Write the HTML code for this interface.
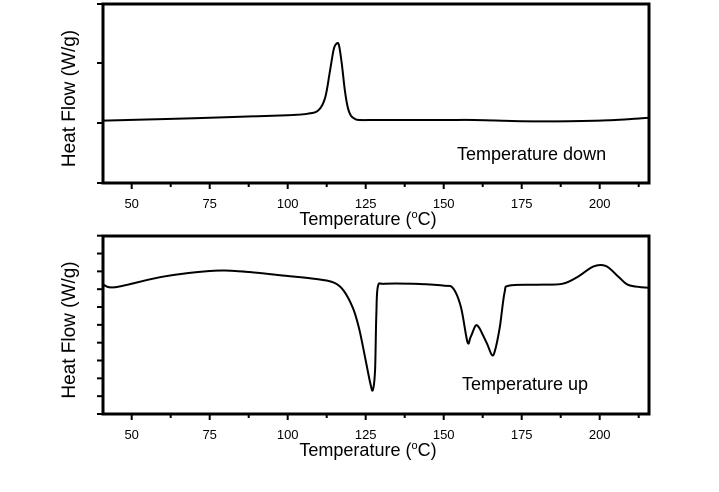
<!DOCTYPE html>
<html><head><meta charset="utf-8"><style>
body{margin:0;background:#fff}
text{font-family:"Liberation Sans",Arial,sans-serif;fill:#000}
</style></head><body>
<svg id="c" width="719" height="487"></svg>
<script>
const xTicks=[50,75,100,125,150,175,200];
const downT=[41,70,100,107,110,112,113.5,114.7,115.6,116.4,117.3,118.3,119.3,120.3,121.5,123,130,150,160,175,190,205,216];
const downV=[1.04,1.08,1.13,1.16,1.22,1.42,1.85,2.22,2.32,2.3,2.0,1.55,1.25,1.12,1.07,1.05,1.05,1.05,1.05,1.03,1.03,1.05,1.09];
const upT=[41,45,60,75,85,100,110,115,118,121,123,125,126.5,127.3,128,128.4,128.9,131,140,150,153,155.5,157.6,158.6,160.2,161.3,162.5,164,165.5,166.5,168,169.5,171,180,188,193,198,202,206,209,213,216];
const upV=[7.24,7.12,7.7,8.02,8.0,7.74,7.55,7.35,6.9,5.9,4.7,3.0,1.7,1.35,2.5,5.5,7.15,7.3,7.3,7.2,7.05,6.0,4.05,4.3,4.95,4.85,4.45,3.9,3.3,3.6,4.9,6.8,7.2,7.25,7.3,7.7,8.28,8.3,7.7,7.25,7.12,7.08];
const NS="http://www.w3.org/2000/svg";
const svg=document.getElementById('c');
function el(t,a,p){const e=document.createElementNS(NS,t);for(const k in a)e.setAttribute(k,a[k]);(p||svg).appendChild(e);return e;}
const X0=103,X1=649;
function xs(t){return 131.7+(t-50)*3.12;}
function path(T,V,ys){
 const P=T.map((t,i)=>[xs(t),ys(V[i])]);
 let d='M'+P[0][0].toFixed(1)+','+P[0][1].toFixed(1);
 for(let i=0;i<P.length-1;i++){
  const p0=P[Math.max(0,i-1)],p1=P[i],p2=P[i+1],p3=P[Math.min(P.length-1,i+2)];
  const c1=[p1[0]+(p2[0]-p0[0])/6,p1[1]+(p2[1]-p0[1])/6],c2=[p2[0]-(p3[0]-p1[0])/6,p2[1]-(p3[1]-p1[1])/6];
  d+='C'+c1.map(v=>v.toFixed(1))+' '+c2.map(v=>v.toFixed(1))+' '+p2.map(v=>v.toFixed(1));
 }
 return d;
}
function panel(name,top,bot,yticks,ys,T,V,note,nx,ny){
 const g=el('g',{});
 
 
 const fr=el('rect',{x:X0,y:top,width:X1-X0,height:bot-top,fill:'none',stroke:'#000','stroke-width':3},g);
 
 
 yticks.forEach(y=>{const l=el('line',{x1:X0-6,x2:X0,y1:y,y2:y,stroke:'#000','stroke-width':2},g);
  });
 for(let t=50;t<=212.5;t+=12.5){const major=(t%25===0);
  const l=el('line',{x1:xs(t),x2:xs(t),y1:bot,y2:bot+(major?6:4),stroke:'#000','stroke-width':2},g);
  }
 xTicks.forEach(t=>{const tx=el('text',{x:xs(t),y:bot+25,'font-size':13,'text-anchor':'middle'},g);tx.textContent=t;
  });
 const xt=el('text',{x:368,y:bot+42,'font-size':18,'text-anchor':'middle'},g);
 xt.innerHTML='Temperature (<tspan dy="-7" font-size="11">o</tspan><tspan dy="7">C)</tspan>';
 
 const yt=el('text',{x:0,y:0,'font-size':19,'text-anchor':'middle',transform:`translate(75,${(top+bot)/2+5}) rotate(-90)`},g);
 yt.textContent='Heat Flow (W/g)';
 
 const c=el('path',{d:path(T,V,ys),fill:'none',stroke:'#000','stroke-width':2},g);
 
 const n=el('text',{x:nx,y:ny,'font-size':18},g);n.textContent=note;
 
}
panel('cooling-panel',4,183,[4,63,123,183],v=>183-v*60,downT,downV,'Temperature down',457,160);
const upTicks=[];for(let i=0;i<=10;i++)upTicks.push(414-i*17.83);
panel('heating-panel',236,414,upTicks,v=>414-v*17.83,upT,upV,'Temperature up',462,390);
</script>
</body></html>
